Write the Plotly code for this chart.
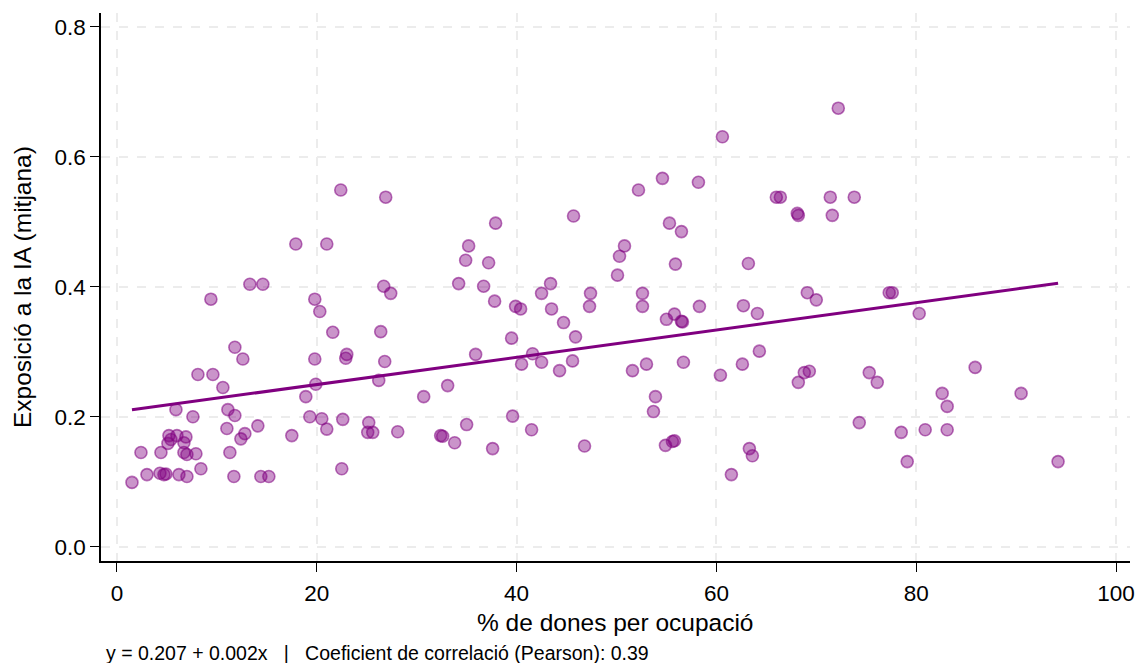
import plotly.graph_objects as go

pct_women = [
    1.5, 2.4, 3.0, 4.4, 4.3, 4.7, 4.9, 5.1, 5.2, 5.4, 5.9, 6.0, 6.2, 6.7, 6.9, 6.7, 7.0, 7.0, 7.6, 7.9,
    8.1, 8.4, 9.4, 9.6, 10.6, 11.0, 11.1, 11.3, 11.8, 11.8, 11.7, 12.6, 12.4, 12.8, 13.3, 14.6, 14.1, 14.4, 15.2, 17.5,
    17.9, 18.9, 19.3, 19.8, 19.8, 19.9, 20.3, 20.5, 21.0, 21.0, 21.6, 22.4, 22.5, 22.6, 23.0, 22.9, 25.2, 25.1, 25.6, 26.9,
    26.7, 27.4, 26.4, 26.8, 26.2, 28.1, 30.7, 33.1, 32.4, 32.6, 33.8, 35.0, 37.6, 35.9, 34.2, 34.9, 35.2, 36.7, 37.2, 37.9,
    37.8, 39.5, 39.6, 39.9, 40.4, 41.6, 40.5, 41.5, 42.5, 42.5, 43.4, 43.5, 44.7, 45.9, 44.3, 45.6, 45.7, 46.8, 47.4, 47.3,
    52.2, 54.6, 58.2, 60.6, 55.3, 56.5, 50.8, 50.3, 55.9, 50.1, 63.2, 52.6, 52.6, 58.3, 62.7, 55.0, 55.8, 56.5, 56.6, 64.1,
    64.3, 53.0, 51.6, 56.7, 62.6, 60.4, 53.9, 53.7, 54.9, 55.6, 55.8, 63.3, 63.6, 61.5, 72.2, 66.0, 66.4, 71.4, 73.8, 68.1,
    68.2, 71.6, 69.1, 70.0, 77.3, 77.6, 80.3, 68.8, 69.3, 68.2, 75.3, 76.1, 85.9, 82.6, 83.1, 90.5, 74.3, 78.5, 80.9, 83.1,
    79.1, 94.2,
]
ai_exposure = [
    0.099, 0.145, 0.111, 0.145, 0.113, 0.111, 0.112, 0.159, 0.171, 0.165, 0.211, 0.171, 0.111, 0.160, 0.169, 0.145, 0.142, 0.108, 0.200, 0.143,
    0.265, 0.120, 0.381, 0.265, 0.245, 0.182, 0.211, 0.145, 0.307, 0.202, 0.108, 0.289, 0.166, 0.174, 0.404, 0.404, 0.186, 0.108, 0.108, 0.171,
    0.466, 0.231, 0.200, 0.381, 0.289, 0.250, 0.362, 0.197, 0.181, 0.466, 0.330, 0.549, 0.120, 0.196, 0.296, 0.290, 0.191, 0.176, 0.176, 0.538,
    0.401, 0.390, 0.331, 0.285, 0.256, 0.177, 0.231, 0.248, 0.171, 0.170, 0.160, 0.188, 0.151, 0.296, 0.405, 0.441, 0.463, 0.401, 0.437, 0.498,
    0.378, 0.321, 0.201, 0.370, 0.366, 0.297, 0.281, 0.180, 0.284, 0.390, 0.405, 0.366, 0.345, 0.323, 0.271, 0.286, 0.509, 0.155, 0.390, 0.370,
    0.549, 0.567, 0.561, 0.631, 0.498, 0.485, 0.463, 0.447, 0.435, 0.418, 0.436, 0.390, 0.370, 0.370, 0.371, 0.350, 0.358, 0.347, 0.346, 0.359,
    0.301, 0.281, 0.271, 0.284, 0.281, 0.264, 0.231, 0.208, 0.156, 0.162, 0.163, 0.151, 0.140, 0.111, 0.675, 0.538, 0.538, 0.538, 0.538, 0.513,
    0.510, 0.510, 0.391, 0.380, 0.391, 0.391, 0.359, 0.268, 0.270, 0.253, 0.268, 0.253, 0.276, 0.236, 0.216, 0.236, 0.191, 0.176, 0.180, 0.180,
    0.131, 0.131,
]

fit_intercept = 0.2076
fit_slope = 0.00210
x_ticks = [0, 20, 40, 60, 80, 100]
y_ticks = [0.0, 0.2, 0.4, 0.6, 0.8]

x_title = "% de dones per ocupació"
y_title = "Exposició a la IA (mitjana)"
footer = "y = 0.207 + 0.002x &nbsp; | &nbsp; Coeficient de correlació (Pearson): 0.39"

line_x = [min(pct_women), max(pct_women)]
line_y = [fit_intercept + fit_slope * v for v in line_x]

FONT = "Liberation Sans, Arial, Helvetica, sans-serif"

fig = go.Figure()
fig.add_trace(go.Scatter(
    x=pct_women, y=ai_exposure, mode="markers",
    marker=dict(size=12, color="rgba(128,0,128,0.42)",
                line=dict(color="rgba(128,0,128,0.55)", width=1.6)),
    hoverinfo="x+y", showlegend=False,
))
fig.add_trace(go.Scatter(
    x=line_x, y=line_y, mode="lines",
    line=dict(color="#800080", width=3), showlegend=False,
))

axis_common = dict(
    showline=True, linecolor="black", linewidth=1.5,
    ticks="outside", ticklen=9, tickwidth=1.3, tickcolor="black",
    showgrid=True, gridcolor="#ececec", gridwidth=2, griddash="dash",
    zeroline=False, tickfont=dict(size=22.5, color="black", family=FONT),
    automargin=False,
)

fig.update_layout(
    width=1137, height=663,
    margin=dict(l=101, r=7, t=13, b=102),
    plot_bgcolor="white", paper_bgcolor="white",
    font=dict(family=FONT, color="black"),
    xaxis=dict(range=[-1.6, 101.4], tickvals=x_ticks, ticklabelstandoff=2, **axis_common),
    yaxis=dict(range=[-0.022, 0.8215], tickvals=y_ticks, tickformat=".1f", **axis_common),
    annotations=[
        dict(text=x_title, xref="paper", yref="paper", x=0.5, y=0, xanchor="center", yanchor="middle",
             yshift=-61, showarrow=False, font=dict(size=24.5, color="black", family=FONT)),
        dict(text=y_title, xref="paper", yref="paper", x=0, y=0.5, xanchor="center", yanchor="middle",
             xshift=-79, textangle=-90, showarrow=False, font=dict(size=24.5, color="black", family=FONT)),
        dict(text=footer, xref="paper", yref="paper", x=0, y=0, xanchor="left", yanchor="middle",
             xshift=3, yshift=-92, showarrow=False, font=dict(size=19.5, color="black", family=FONT)),
    ],
)

fig.write_html(
    "out.html",
    config={"displayModeBar": False},
    post_script="document.body.style.margin='0';document.body.style.overflow='hidden';",
)
